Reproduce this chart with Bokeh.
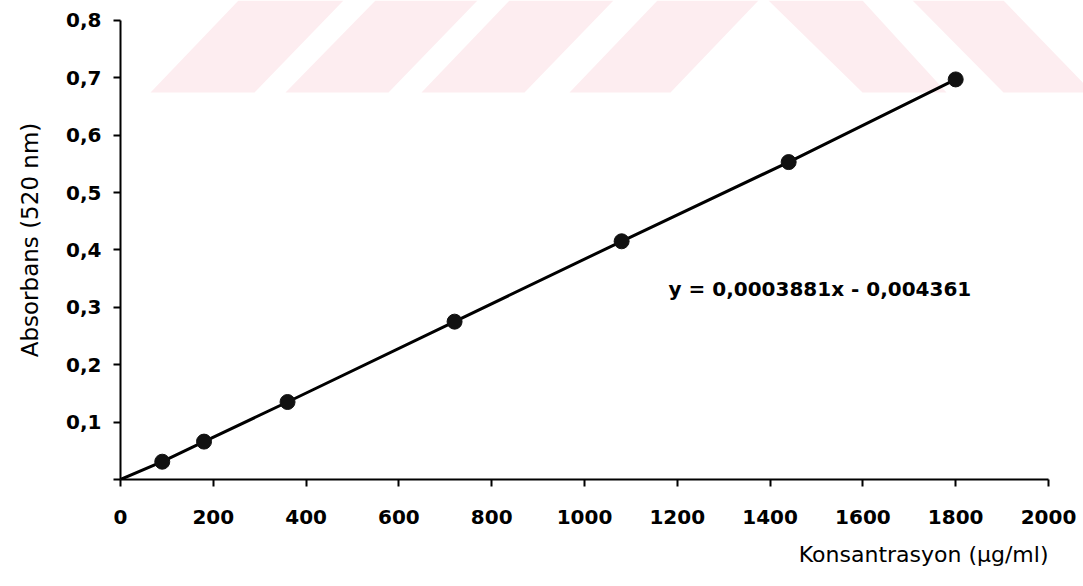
from bokeh.plotting import figure
from bokeh.models import Range1d, Label, FixedTicker, CustomJSTickFormatter, Title
from bokeh.embed import file_html
from bokeh.resources import INLINE

# ---- data ----
conc = [90, 180, 360, 720, 1080, 1440, 1800]
absorb = [0.031, 0.066, 0.135, 0.275, 0.415, 0.553, 0.697]
line_x = [0] + conc
line_y = [0.0] + absorb
x_ticks = [0, 200, 400, 600, 800, 1000, 1200, 1400, 1600, 1800, 2000]
y_ticks = [0, 0.1, 0.2, 0.3, 0.4, 0.5, 0.6, 0.7, 0.8]
equation = "y = 0,0003881x - 0,004361"
x_title = "Konsantrasyon (\u03bcg/ml)"
y_title = "Absorbans (520 nm)"

# ---- layout geometry (pixels) ----
W, H = 1083, 586
LEFT, BOTTOM_PX, TOP_PX = 120, 479, 0
PX_PER_X = 928 / 2000.0
PX_PER_Y = 574.0

def dx(px):
    return (px - LEFT) / PX_PER_X

def dy(py):
    return (BOTTOM_PX - py) / PX_PER_Y

p = figure(width=W, height=H, output_backend="svg", toolbar_location=None,
           x_range=Range1d(0, dx(W)), y_range=Range1d(0, dy(TOP_PX)),
           min_border_left=LEFT, min_border_right=0, min_border_top=0,
           min_border_bottom=H - BOTTOM_PX)
p.outline_line_color = None
p.grid.visible = False
p.background_fill_color = "white"
p.border_fill_color = "white"

# background watermark (decoration, pixel geometry)
wm = [
    [(150, 92), (254, 92), (343, 0), (238, 0)],
    [(285, 92), (388, 92), (477, 0), (375, 0)],
    [(421, 92), (524, 92), (613, 0), (509, 0)],
    [(569, 92), (670, 92), (758, 0), (657, 0)],
    [(768, 0), (862, 0), (946, 92), (862, 92)],
    [(912, 0), (1003, 0), (1092, 92), (1003, 92)],
]
p.patches([[dx(a) for a, b in poly] for poly in wm],
          [[dy(b) for a, b in poly] for poly in wm],
          fill_color="#fdedf0", line_color=None, level="underlay")

# series
p.line(line_x, line_y, line_color="black", line_width=3)
p.scatter(conc, absorb, size=15, fill_color="#111111", line_color="#111111")

font = "DejaVu Sans"
for ax in (p.xaxis[0], p.yaxis[0]):
    ax.axis_line_color = "black"
    ax.axis_line_width = 2
    ax.major_tick_line_color = "black"
    ax.major_tick_line_width = 2
    ax.major_tick_in = 0
    ax.major_tick_out = 7
    ax.minor_tick_line_color = None
    ax.major_label_text_font = font
    ax.major_label_text_font_style = "bold"
    ax.major_label_text_font_size = "20px"
    ax.major_label_text_color = "black"

p.xaxis.ticker = FixedTicker(ticks=x_ticks)
p.xaxis.bounds = (0, 2000)
p.xaxis.major_label_standoff = 23

p.yaxis.ticker = FixedTicker(ticks=y_ticks)
p.yaxis.bounds = (0, 0.8)
p.yaxis.major_label_standoff = 12
p.yaxis.formatter = CustomJSTickFormatter(
    code="return tick == 0 ? '' : tick.toFixed(1).replace('.', ',');")
p.yaxis.axis_label = y_title
p.yaxis.axis_label_text_font = font
p.yaxis.axis_label_text_font_style = "normal"
p.yaxis.axis_label_text_font_size = "23px"
p.yaxis.axis_label_text_color = "black"
p.yaxis.axis_label_standoff = 20

p.add_layout(Title(text=x_title, align="right", offset=35, standoff=26,
                   text_font=font, text_font_style="normal",
                   text_font_size="22px", text_color="black"), "below")

p.add_layout(Label(x=dx(668), y=dy(288), text=equation, text_align="left",
                   text_baseline="alphabetic", text_font=font,
                   text_font_style="bold", text_font_size="20px",
                   text_color="black"))

open("out.html", "w").write(file_html(p, INLINE))
